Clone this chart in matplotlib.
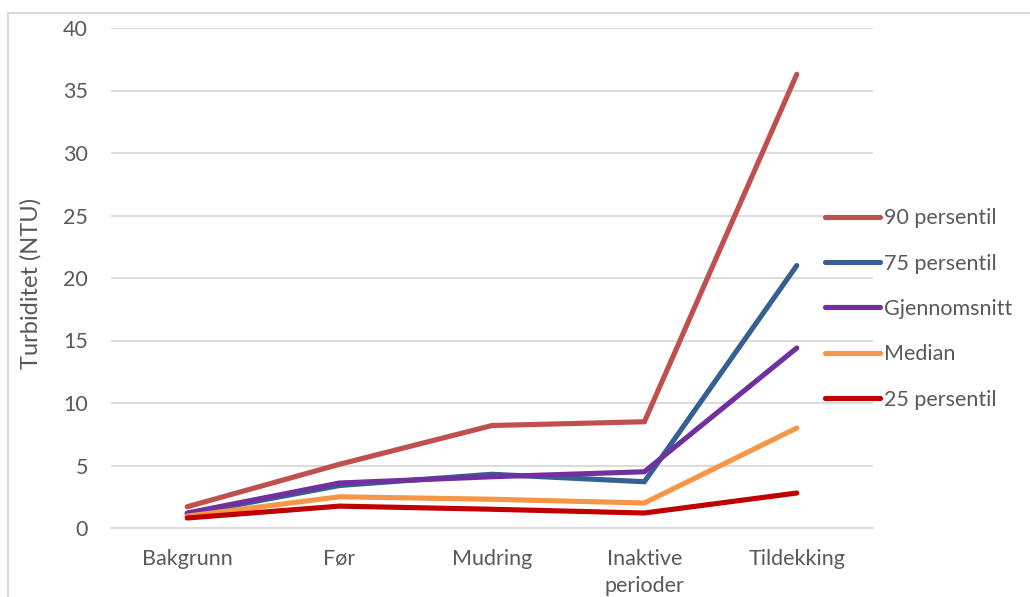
import matplotlib
matplotlib.use("Agg")
import matplotlib.pyplot as plt
from matplotlib.patches import Rectangle

plt.rcParams['font.family'] = ['Lato', 'DejaVu Sans']

categories = ["Bakgrunn", "Før", "Mudring", "Inaktive\nperioder", "Tildekking"]

p90 = [1.7, 5.1, 8.2, 8.5, 36.3]
p75 = [1.1, 3.4, 4.3, 3.7, 21.0]
mean = [1.2, 3.6, 4.1, 4.5, 14.4]
median = [0.95, 2.5, 2.3, 2.0, 8.0]
p25 = [0.8, 1.75, 1.5, 1.2, 2.8]

series = [
    ("90 persentil", p90, "#C0504D"),
    ("75 persentil", p75, "#376092"),
    ("Gjennomsnitt", mean, "#7030A0"),
    ("Median", median, "#F79646"),
    ("25 persentil", p25, "#C00000"),
]

W, H = 1030, 597
fig = plt.figure(figsize=(W / 100, H / 100), dpi=100)

# outer chart-area border
fig.patches.append(Rectangle((8 / W, -0.1), 1.2, (H - 13) / H + 0.1,
                             transform=fig.transFigure, fill=False,
                             edgecolor="#D9D9D9", linewidth=1.5))

left, right, top, bottom = 111, 873, 28, 528
ax = fig.add_axes([left / W, 1 - bottom / H, (right - left) / W, (bottom - top) / H])

x = list(range(len(categories)))
for label, vals, color in series:
    ax.plot(x, vals, color=color, linewidth=3.7, solid_capstyle="round",
            solid_joinstyle="miter", label=label)

ax.set_xlim(-0.5, len(categories) - 0.5)
ax.set_ylim(0, 40)
ax.set_yticks(range(0, 41, 5))
ax.set_xticks(x)
ax.set_xticklabels(categories)
ax.grid(axis="y", color="#D9D9D9", linewidth=1.3)
ax.set_axisbelow(True)
for s in ["top", "right", "left"]:
    ax.spines[s].set_visible(False)
ax.spines["bottom"].set_color("#D9D9D9")
ax.spines["bottom"].set_linewidth(1.3)
ax.tick_params(axis="both", length=0, labelsize=15.5, colors="#595959")
ax.tick_params(axis="y", pad=16.5)
ax.tick_params(axis="x", pad=15)
for t in ax.get_xticklabels():
    t.set_linespacing(1.45)

ax.set_ylabel("Turbiditet (NTU)", fontsize=17, color="#595959")
ax.yaxis.set_label_coords((42 - left) / (right - left), 0.49)

leg = ax.legend(loc="center left", bbox_to_anchor=(825 / W, 1 - 309 / H),
                bbox_transform=fig.transFigure, frameon=False,
                fontsize=15.5, labelcolor="#595959", handlelength=2.55,
                handletextpad=0.17, labelspacing=1.18, borderpad=0,
                borderaxespad=0)

fig.savefig("out.png", dpi=100)
